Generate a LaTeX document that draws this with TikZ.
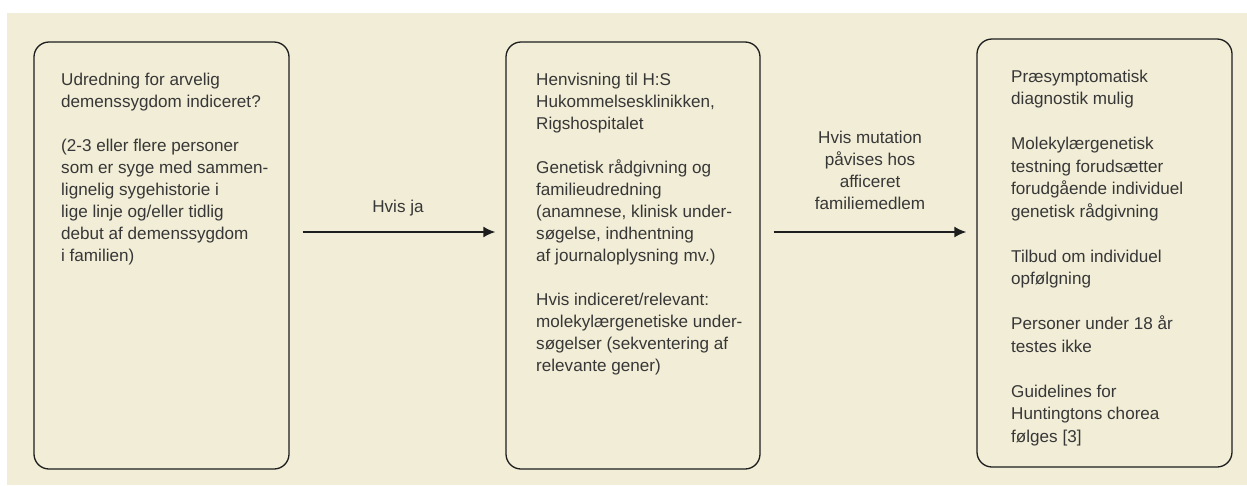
\documentclass[tikz,border=0pt]{standalone}
\usepackage{fontspec}
\setmainfont{Liberation Sans}
\usetikzlibrary{arrows.meta}
\definecolor{bg}{RGB}{241,237,214}
\definecolor{txt}{RGB}{55,55,55}
\definecolor{edge}{RGB}{30,30,30}
\tikzset{
  box/.style={draw=edge, line width=1.3pt, rounded corners=15pt, inner sep=0pt},
  txtblock/.style={anchor=base west, inner sep=0pt, text=txt, font=\fontsize{17.1}{22}\selectfont},
  lbl/.style={anchor=base, inner sep=0pt, text=txt, font=\fontsize{17.1}{22}\selectfont},
  arr/.style={draw=edge, line width=1.8pt, -{Latex[length=12pt,width=11pt]}},
}
\begin{document}
\begin{tikzpicture}[x=1pt,y=-1pt]
\useasboundingbox (0,0) rectangle (1247,485);
\fill[bg] (7,13) rectangle (1247,485);

\node[box, minimum width=255pt, minimum height=427pt] (b1) at (161.5,255.5) {};
\node[box, minimum width=254pt, minimum height=427pt] (b2) at (633,255.5) {};
\node[box, minimum width=255pt, minimum height=428pt] (b3) at (1104.5,253) {};

\node[txtblock] (t1) at (61,85) {\parbox[t]{250pt}{\raggedright
Udredning for arvelig\\
demenssygdom indiceret?\\[22pt]
(2-3 eller flere personer\\
som er syge med sammen-\\
lignelig sygehistorie i\\
lige linje og/eller tidlig\\
debut af demenssygdom\\
i familien)}};

\node[txtblock] (t2) at (536,85) {\parbox[t]{250pt}{\raggedright
Henvisning til H:S\\
Hukommelsesklinikken,\\
Rigshospitalet\\[22pt]
Genetisk rådgivning og\\
familieudredning\\
(anamnese, klinisk under-\\
søgelse, indhentning\\
af journaloplysning mv.)\\[22pt]
Hvis indiceret/relevant:\\
molekylærgenetiske under-\\
søgelser (sekventering af\\
relevante gener)}};

\node[txtblock] (t3) at (1011,82) {\parbox[t]{250pt}{\fontsize{17.1}{22.5}\selectfont\raggedright
Præsymptomatisk\\
diagnostik mulig\\[22.5pt]
Molekylærgenetisk\\
testning forudsætter\\
forudgående individuel\\
genetisk rådgivning\\[22.5pt]
Tilbud om individuel\\
opfølgning\\[22.5pt]
Personer under 18 år\\
testes ikke\\[22.5pt]
Guidelines for\\
Huntingtons chorea\\
følges [3]}};

\coordinate (ay) at (0,232);
\draw[arr, shorten <=13pt, shorten >=10pt] (b1.east |- ay) -- (b2.west |- ay);
\draw[arr, shorten <=13pt, shorten >=10pt] (b2.east |- ay) -- (b3.west |- ay);

\node[lbl] (l1) at (398,212) {Hvis ja};
\node[lbl] (l2) at (870,143) {\parbox[t]{200pt}{\centering
Hvis mutation\\
påvises hos\\
afficeret\\
familiemedlem}};
\end{tikzpicture}
\end{document}
